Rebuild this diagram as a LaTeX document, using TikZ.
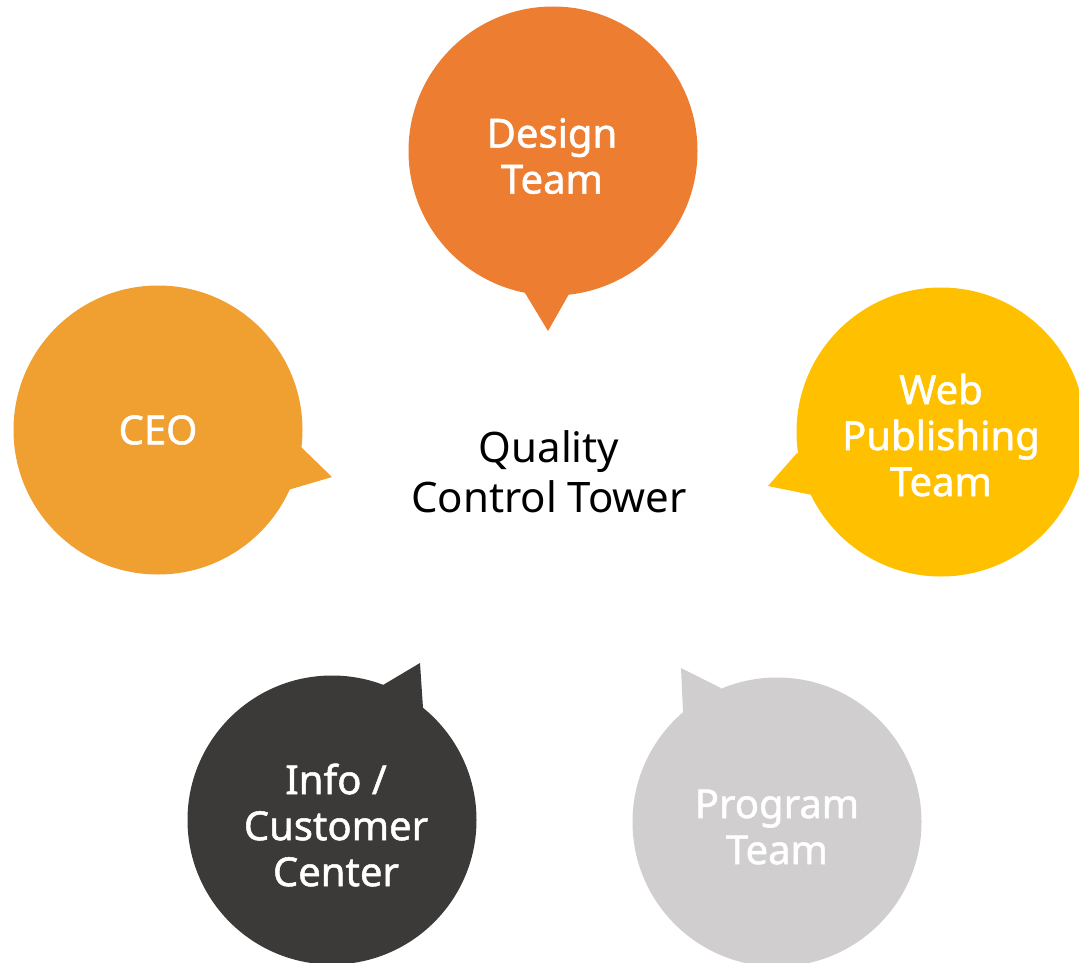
\documentclass[tikz,border=0pt]{standalone}
\usepackage{fontspec}
\setmainfont{Noto Sans}
\newfontfamily\bubblefont[FakeBold=1.3]{Noto Sans}
\definecolor{cDesign}{HTML}{ED7D31}
\definecolor{cCEO}{HTML}{F0A030}
\definecolor{cWeb}{HTML}{FFC000}
\definecolor{cInfo}{HTML}{3B3A38}
\definecolor{cProg}{HTML}{D0CECF}
\begin{document}
\begin{tikzpicture}[x=1pt,y=-1pt,
  bubble/.style={circle,minimum size=289pt,inner sep=0pt},
  btext/.style={text=white,align=center,inner sep=0pt,
    font=\bubblefont\fontsize{40}{46}\selectfont}]
\useasboundingbox (0,0) rectangle (1079,963);
\begin{scope}
\clip (0,0) rectangle (1079,963);
% tails
\fill[cDesign] (525,293) -- (548,331) -- (569,294) -- cycle;
\fill[cCEO] (300,446) -- (332,477) -- (288,490) -- (280,470) -- cycle;
\fill[cWeb] (797,453) -- (768,486) -- (812,495) -- (820,470) -- cycle;
\fill[cInfo] (383,685) -- (420,663) -- (423,708) -- (400,700) -- cycle;
\fill[cProg] (681,668) -- (721,688) -- (710,705) -- (683,712) -- cycle;
% bubbles
\node[bubble,fill=cDesign] (design) at (553,151) {};
\node[bubble,fill=cCEO] (ceo) at (158,430) {};
\node[bubble,fill=cWeb] (web) at (941,432) {};
\node[bubble,fill=cInfo] (info) at (332,820) {};
\node[bubble,fill=cProg] (prog) at (777,822) {};
\end{scope}
\node[btext] (designtxt) at (552,156) {Design\\Team};
\node[btext] (ceotxt) at (158,430) {CEO};
\node[btext] (webtxt) at (941,435) {Web\\Publishing\\Team};
\node[btext] (infotxt) at (336,825) {Info /\\Customer\\Center};
\node[btext] (progtxt) at (777,827) {Program\\Team};
\node[align=center,font=\fontsize{42}{50}\selectfont] (qct) at (549,472) {Quality\\Control Tower};
\end{tikzpicture}
\end{document}
